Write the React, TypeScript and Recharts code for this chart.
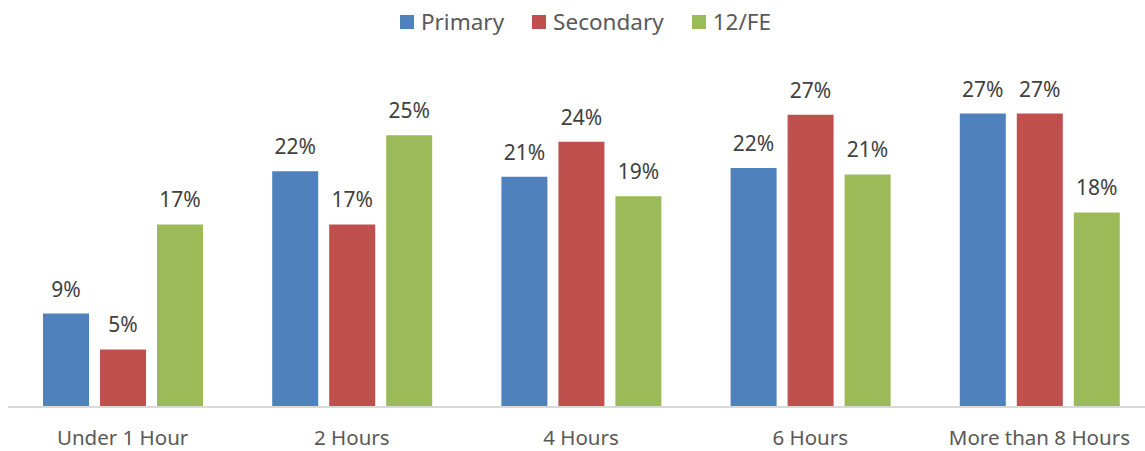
import React from 'react';
import { BarChart, Bar, XAxis, YAxis, LabelList } from 'recharts';

// Hours of use, share of respondents (%)
const categories = ['Under 1 Hour', '2 Hours', '4 Hours', '6 Hours', 'More than 8 Hours'];
const primary = [8.6, 21.7, 21.2, 22.0, 27.0];
const secondary = [5.3, 16.8, 24.4, 26.9, 27.0];
const twelveFE = [16.8, 25.0, 19.4, 21.4, 17.9];

const series = [
  { key: 'primary', name: 'Primary', color: '#4F81BD', values: primary },
  { key: 'secondary', name: 'Secondary', color: '#C0504D', values: secondary },
  { key: 'twelveFE', name: '12/FE', color: '#9BBB59', values: twelveFE },
];

const data = categories.map((cat, i) => {
  const row: Record<string, any> = { category: cat };
  series.forEach((s) => {
    row[s.key] = s.values[i];
  });
  return row;
});

const FONT = '"Noto Sans", sans-serif';

const AxisTick = ({ x, y, payload }: any) => (
  <text x={x} y={y + 30} textAnchor="middle" fill="#595959" fontSize={20.5} fontFamily={FONT}>
    {payload.value}
  </text>
);

export default function App() {
  return (
    <div style={{ position: 'absolute', left: 0, top: 0, width: 1145, height: 451, overflow: 'hidden', background: '#fff' }}>
      <div
        style={{
          position: 'absolute',
          top: 6,
          left: 0,
          width: 1145,
          display: 'flex',
          justifyContent: 'center',
          gap: 28,
          fontFamily: FONT,
          fontSize: 22.5,
          color: '#595959',
          paddingLeft: 26,
          boxSizing: 'border-box',
        }}
      >
        {series.map((s) => (
          <div key={s.key} style={{ display: 'flex', alignItems: 'center', gap: 7 }}>
            <span style={{ display: 'inline-block', width: 14, height: 14, background: s.color }} />
            <span>{s.name}</span>
          </div>
        ))}
      </div>
      <BarChart
        width={1154}
        height={451}
        data={data}
        margin={{ top: 81, right: 0, left: 8, bottom: 0 }}
        barCategoryGap={35}
        barGap={11}
      >
        <XAxis
          dataKey="category"
          height={44}
          tickLine={false}
          axisLine={{ stroke: '#D9D9D9', strokeWidth: 2 }}
          tick={<AxisTick />}
          interval={0}
        />
        <YAxis hide domain={[0, 30]} />
        {series.map((s) => (
          <Bar key={s.key} dataKey={s.key} name={s.name} fill={s.color} isAnimationActive={false}>
            <LabelList
              dataKey={s.key}
              position="top"
              offset={17}
              formatter={(v: any) => `${Math.round(Number(v))}%`}
              fill="#404040"
              fontSize={21}
              fontFamily={FONT}
            />
          </Bar>
        ))}
      </BarChart>
    </div>
  );
}
